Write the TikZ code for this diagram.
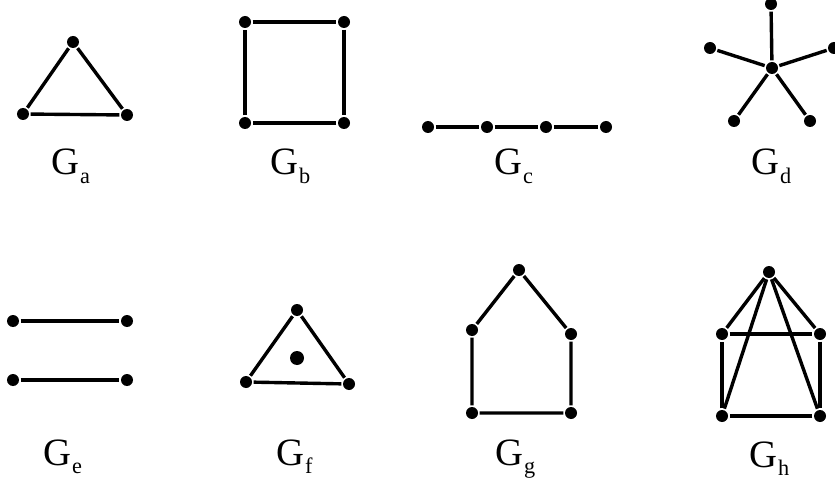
\documentclass[tikz,border=0pt]{standalone}
\usepackage{fontspec}
\setmainfont{Liberation Serif}
\newcommand{\gname}[1]{G\kern0.5pt\raisebox{-7pt}{\fontsize{19}{19}\selectfont #1}}
\begin{document}
\begin{tikzpicture}[x=0.03cm, y=-0.03cm, line width=2.9pt,
    vtx/.style={circle, fill=black, inner sep=0pt, minimum size=0.36cm},
    lbl/.style={anchor=base west, inner sep=0pt, font=\fontsize{33}{38}\selectfont}]
    \useasboundingbox (0,0) rectangle (835,481);
    % G_a
    \node[vtx] (a1) at (73,42) {};
    \node[vtx] (a2) at (23,114) {};
    \node[vtx] (a3) at (127,115) {};
    \draw (a1) -- (a2) -- (a3) -- (a1);
    \node[lbl] (la) at (50,175) {\gname{a}};
    % G_b
    \node[vtx] (b1) at (245,22) {};
    \node[vtx] (b2) at (344,22) {};
    \node[vtx] (b3) at (344,123) {};
    \node[vtx] (b4) at (245,123) {};
    \draw (b1) -- (b2) -- (b3) -- (b4) -- (b1);
    \node[lbl] (lb) at (269,175) {\gname{b}};
    % G_c
    \node[vtx] (c1) at (428,127) {};
    \node[vtx] (c2) at (487,127) {};
    \node[vtx] (c3) at (546,127) {};
    \node[vtx] (c4) at (606,127) {};
    \draw (c1) -- (c2) -- (c3) -- (c4);
    \node[lbl] (lc) at (493,175) {\gname{c}};
    % G_d
    \node[vtx] (d0) at (772,68) {};
    \node[vtx] (d1) at (771,4) {};
    \node[vtx] (d2) at (710,48) {};
    \node[vtx] (d3) at (834,48) {};
    \node[vtx] (d4) at (734,121) {};
    \node[vtx] (d5) at (810,121) {};
    \draw (d0) -- (d1);
    \draw (d0) -- (d2);
    \draw (d0) -- (d3);
    \draw (d0) -- (d4);
    \draw (d0) -- (d5);
    \node[lbl] (ld) at (750,175) {\gname{d}};
    % G_e
    \node[vtx] (e1) at (13,321) {};
    \node[vtx] (e2) at (127,321) {};
    \node[vtx] (e3) at (13,380) {};
    \node[vtx] (e4) at (127,380) {};
    \draw (e1) -- (e2);
    \draw (e3) -- (e4);
    \node[lbl] (le) at (42,465) {\gname{e}};
    % G_f
    \node[vtx] (f1) at (297,310) {};
    \node[vtx] (f2) at (246,382) {};
    \node[vtx] (f3) at (349,384) {};
    \node[vtx, minimum size=0.42cm] (f4) at (297,358) {};
    \draw (f1) -- (f2) -- (f3) -- (f1);
    \node[lbl] (lf) at (275,465) {\gname{f}};
    % G_g
    \node[vtx] (g1) at (519,270) {};
    \node[vtx] (g2) at (472,330) {};
    \node[vtx] (g3) at (571,334) {};
    \node[vtx] (g4) at (472,413) {};
    \node[vtx] (g5) at (571,413) {};
    \draw (g1) -- (g2) -- (g4) -- (g5) -- (g3) -- (g1);
    \node[lbl] (lg) at (494,465) {\gname{g}};
    % G_h
    \node[vtx] (h1) at (769,272) {};
    \node[vtx] (h2) at (722,334) {};
    \node[vtx] (h3) at (820,334) {};
    \node[vtx] (h4) at (722,416) {};
    \node[vtx] (h5) at (820,416) {};
    \draw (h2) -- (h3) -- (h5) -- (h4) -- (h2);
    \draw (h1) -- (h2);
    \draw (h1) -- (h3);
    \draw (h1) -- (h4);
    \draw (h1) -- (h5);
    \node[lbl] (lh) at (748,467) {\gname{h}};
\end{tikzpicture}
\end{document}
